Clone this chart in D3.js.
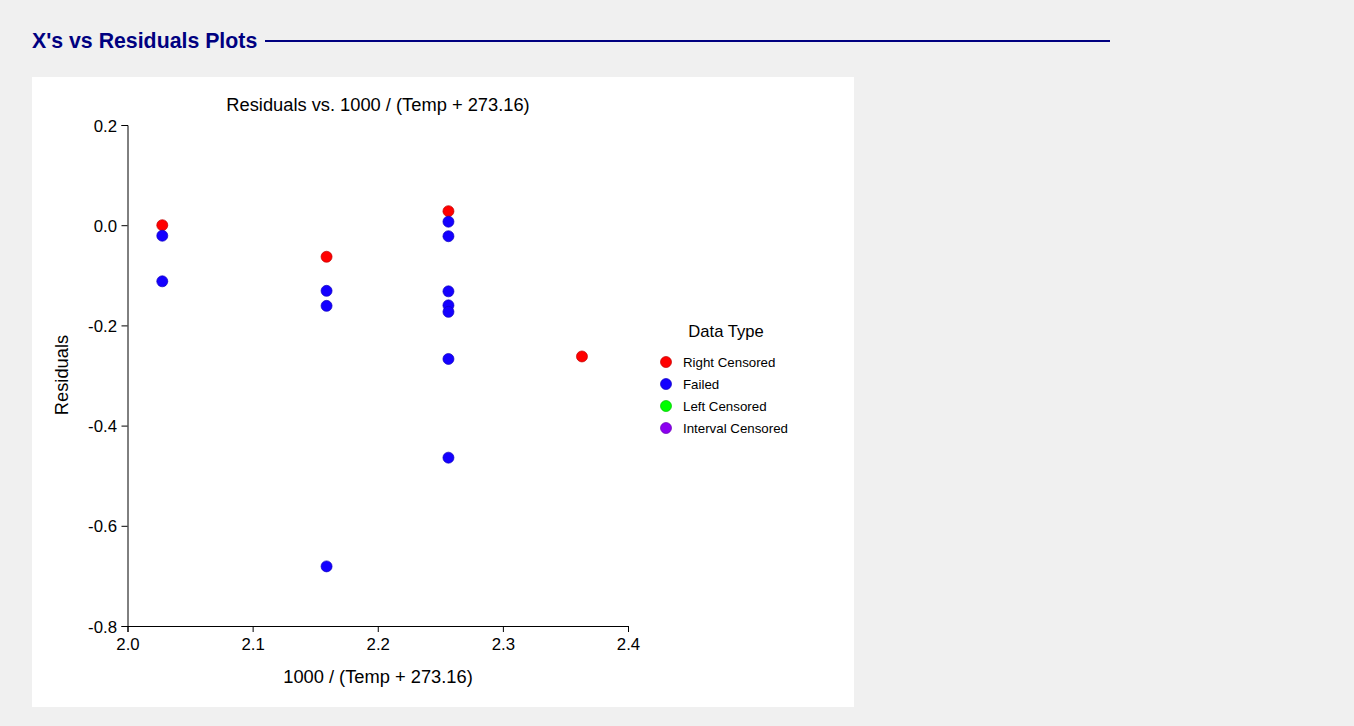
<!DOCTYPE html>
<html><head><meta charset="utf-8">
<script src="https://cdn.jsdelivr.net/npm/d3@7"></script>
<style>
body{margin:0;background:#f0f0f0;font-family:"Liberation Sans",Arial,sans-serif;}
svg{display:block}
</style></head><body>
<svg id="c" width="1354" height="726"></svg>
<script>
const xTicks = [2.0, 2.1, 2.2, 2.3, 2.4];
const yTicks = [0.2, 0.0, -0.2, -0.4, -0.6, -0.8];
const legendTypes = ["Right Censored", "Failed", "Left Censored", "Interval Censored"];
const typeColors = ["#ff0000", "#1400ff", "#00ff00", "#8b00f0"];
// x = 1000/(Temp+273.16)
const pointX = [2.0278, 2.0278, 2.0278, 2.1591, 2.1591, 2.1591, 2.1591, 2.2565, 2.2565, 2.2565, 2.2565, 2.2565, 2.2565, 2.2565, 2.2565, 2.3632];
const pointY = [0.000, -0.021, -0.112, -0.063, -0.131, -0.161, -0.681, 0.028, 0.007, -0.022, -0.132, -0.160, -0.173, -0.267, -0.464, -0.262];
const pointType = ["Right Censored","Failed","Failed","Right Censored","Failed","Failed","Failed","Right Censored","Failed","Failed","Failed","Failed","Failed","Failed","Failed","Right Censored"];

const fmt = v => d3.format(".1f")(v).replace("\u2212","-");

const svg = d3.select("#c");
svg.append("rect").attr("x",0).attr("y",0).attr("width",1354).attr("height",726).attr("fill","#f0f0f0");
svg.append("text").attr("x",32).attr("y",48).attr("fill","#000080")
  .attr("font-size",21.3).attr("font-weight","bold").text("X's vs Residuals Plots");
svg.append("line").attr("x1",265).attr("x2",1110).attr("y1",41).attr("y2",41)
  .attr("stroke","#000080").attr("stroke-width",2);
svg.append("rect").attr("x",32).attr("y",77).attr("width",822).attr("height",630).attr("fill","#ffffff");

const x = d3.scaleLinear().domain([2.0,2.4]).range([127.5,628]);
const y = d3.scaleLinear().domain([0.2,-0.8]).range([125,626]);
const color = d3.scaleOrdinal().domain(legendTypes).range(typeColors);

const g = svg.append("g");
const xa = g.append("g").attr("transform","translate(0,626)")
  .call(d3.axisBottom(x).tickValues(xTicks).tickFormat(fmt).tickSizeOuter(0).tickSize(6));
const ya = g.append("g").attr("transform","translate(127.5,0)")
  .call(d3.axisLeft(y).tickValues(yTicks).tickFormat(fmt).tickSizeOuter(0).tickSize(6));
[xa,ya].forEach(a=>{
  a.selectAll("text").attr("font-size",16.8).attr("fill","#000").attr("font-family","Liberation Sans, Arial, sans-serif");
  a.selectAll("line,path").attr("stroke","#000");
});
xa.selectAll("text").attr("dy",0).attr("y",24);
ya.selectAll("text").attr("dy","0.36em").attr("x",-10.5);

svg.append("text").attr("x",378).attr("y",111).attr("text-anchor","middle").attr("font-size",18.3).text("Residuals vs. 1000 / (Temp + 273.16)");
svg.append("text").attr("x",378).attr("y",683).attr("text-anchor","middle").attr("font-size",18.3).text("1000 / (Temp + 273.16)");
svg.append("text").attr("transform","translate(68,375) rotate(-90)").attr("text-anchor","middle").attr("font-size",18.3).text("Residuals");

const pts = pointX.map((v,i)=>({x:v,y:pointY[i],t:pointType[i]}));
g.selectAll("circle.pt").data(pts).join("circle").attr("class","pt")
  .attr("cx",d=>x(d.x)).attr("cy",d=>y(d.y)).attr("r",5.5)
  .attr("fill",d=>color(d.t)).attr("stroke",d=>d3.color(color(d.t)).darker(0.8)).attr("stroke-width",0.7);

const lg = svg.append("g");
lg.append("text").attr("x",726).attr("y",337).attr("text-anchor","middle").attr("font-size",16.6).text("Data Type");
legendTypes.forEach((t,i)=>{
  lg.append("circle").attr("cx",666).attr("cy",362+i*22).attr("r",5.5).attr("fill",color(t))
    .attr("stroke",d3.color(color(t)).darker(0.8)).attr("stroke-width",0.7);
  lg.append("text").attr("x",683).attr("y",362+i*22).attr("dy","0.35em").attr("font-size",13.3).text(t);
});
</script></body></html>
